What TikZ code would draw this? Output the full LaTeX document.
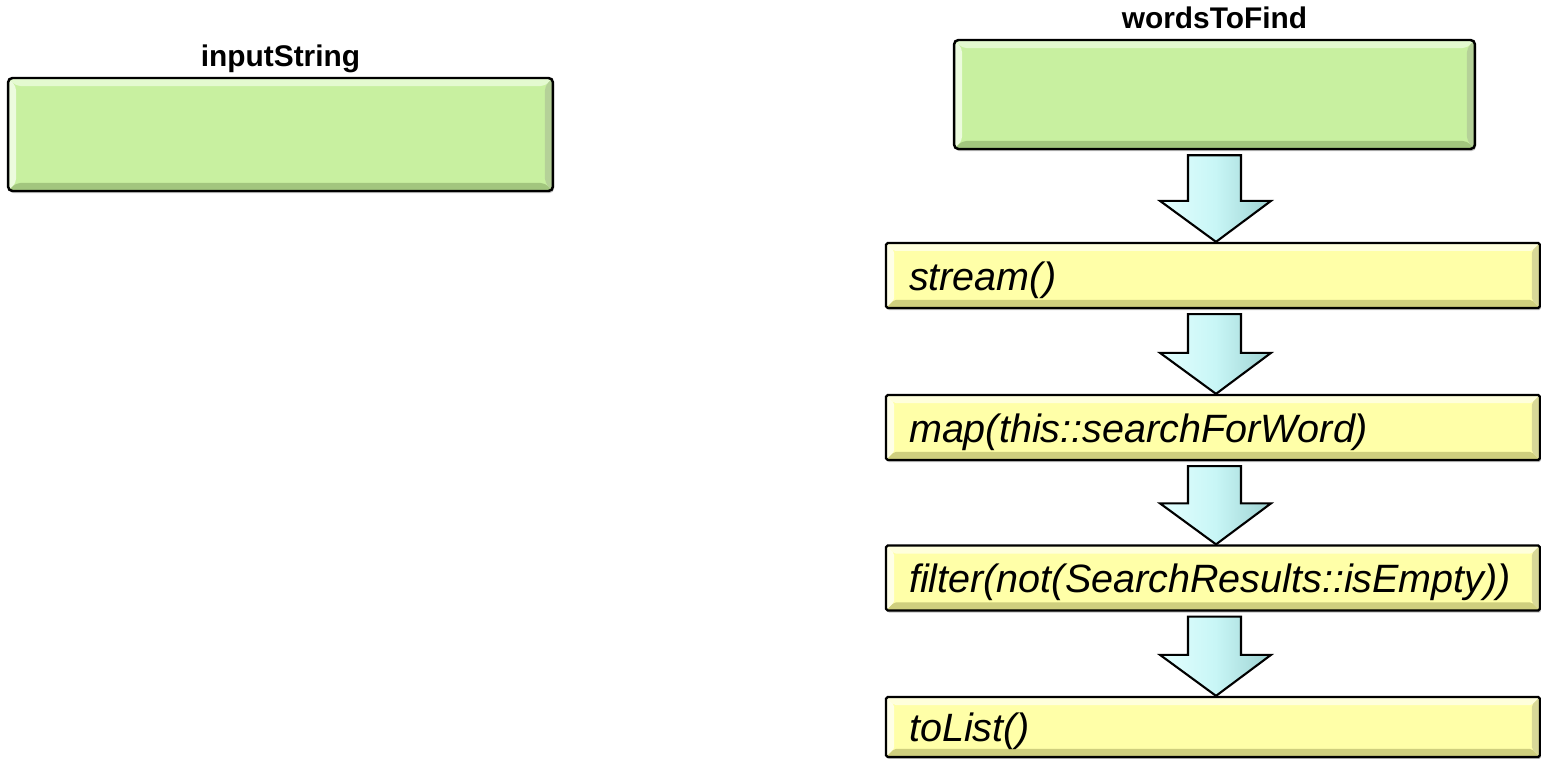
\documentclass[tikz,border=0pt]{standalone}
\usepackage{fontspec}
\setmainfont{Liberation Sans}
\usetikzlibrary{positioning,calc,shadows}

\definecolor{boxgreen}{HTML}{C8F0A0}
\definecolor{greenlight}{HTML}{E4FAD0}
\definecolor{greendark}{HTML}{A2C67E}
\definecolor{opyellow}{HTML}{FFFFA8}
\definecolor{yellowlight}{HTML}{FFFFDC}
\definecolor{yellowdark}{HTML}{CFCF7E}
\definecolor{flowlight}{HTML}{E4FFFF}
\definecolor{flowmid}{HTML}{C8F6F6}
\definecolor{flowdark}{HTML}{9ED2D2}

\begin{document}
\begin{tikzpicture}[
  x=0.02cm, y=-0.02cm,
  bevel/.style 2 args={path picture={
    \coordinate (bnw) at (path picture bounding box.north west);
    \coordinate (bne) at (path picture bounding box.north east);
    \coordinate (bsw) at (path picture bounding box.south west);
    \coordinate (bse) at (path picture bounding box.south east);
    \fill[#1] (bnw) -- (bne) -- ([xshift=-0.16cm,yshift=-0.16cm]bne) -- ([xshift=0.16cm,yshift=-0.16cm]bnw) -- cycle;
    \fill[#1!70!white] (bnw) -- ([xshift=0.16cm,yshift=-0.16cm]bnw) -- ([xshift=0.16cm,yshift=0.16cm]bsw) -- (bsw) -- cycle;
    \fill[#2] (bsw) -- (bse) -- ([xshift=-0.16cm,yshift=0.16cm]bse) -- ([xshift=0.16cm,yshift=0.16cm]bsw) -- cycle;
    \fill[#2!80!white] (bne) -- ([xshift=-0.16cm,yshift=-0.16cm]bne) -- ([xshift=-0.16cm,yshift=0.16cm]bse) -- (bse) -- cycle;
  }},
  inbox/.style={draw=black, line width=1.4pt, rounded corners=2.5pt, fill=boxgreen,
    bevel={greenlight}{greendark}, drop shadow={shadow xshift=0.6pt, shadow yshift=-1.2pt, opacity=0.5}},
  opbox/.style={draw=black, line width=1.3pt, rounded corners=1pt, fill=opyellow,
    bevel={yellowlight}{yellowdark}, drop shadow={shadow xshift=0.6pt, shadow yshift=-1.2pt, opacity=0.5},
    text width=12.16cm, inner xsep=0.46cm, inner ysep=0pt, align=left, minimum height=1.3cm,
    text height=0.6cm, text depth=0cm, font=\itshape\fontsize{22.5}{26}\selectfont},
  title/.style={inner sep=0pt, font=\bfseries\fontsize{17}{20}\selectfont},
  flow/.style={draw=black, line width=1.2pt, line join=miter, left color=flowlight, right color=flowdark, middle color=flowmid}
]
\useasboundingbox (0,0) rectangle (1541,759);

\node[inbox, minimum width=10.9cm, minimum height=2.26cm] (input) at (280.5,134.5) {};
\node[title, above=0.21cm of input, anchor=base] (inputlbl) {inputString};

\node[inbox, minimum width=10.42cm, minimum height=2.18cm] (words) at (1214.5,94.5) {};
\node[title, above=0.2cm of words, anchor=base] (wordslbl) {wordsToFind};

\node[opbox] (stream) at (1213,275.5) {stream()};
\node[opbox] (map) at (1213,427.5) {map(this::searchForWord)};
\node[opbox] (filter) at (1213,578) {filter(not(SearchResults::isEmpty))};
\node[opbox, minimum height=1.2cm] (tolist) at (1213,727) {toList()};

\foreach \a/\b in {words/stream, stream/map, map/filter, filter/tolist}
  \draw[flow] let \p1=(\a.south), \p2=(\b.north) in
    (\x2-0.5cm,\y1-0.1cm) -- (\x2+0.56cm,\y1-0.1cm) -- (\x2+0.56cm,\y2+0.82cm)
    -- (\x2+1.16cm,\y2+0.82cm) -- (\x2+0.06cm,\y2) -- (\x2-1.06cm,\y2+0.82cm)
    -- (\x2-0.5cm,\y2+0.82cm) -- cycle;

\end{tikzpicture}
\end{document}
